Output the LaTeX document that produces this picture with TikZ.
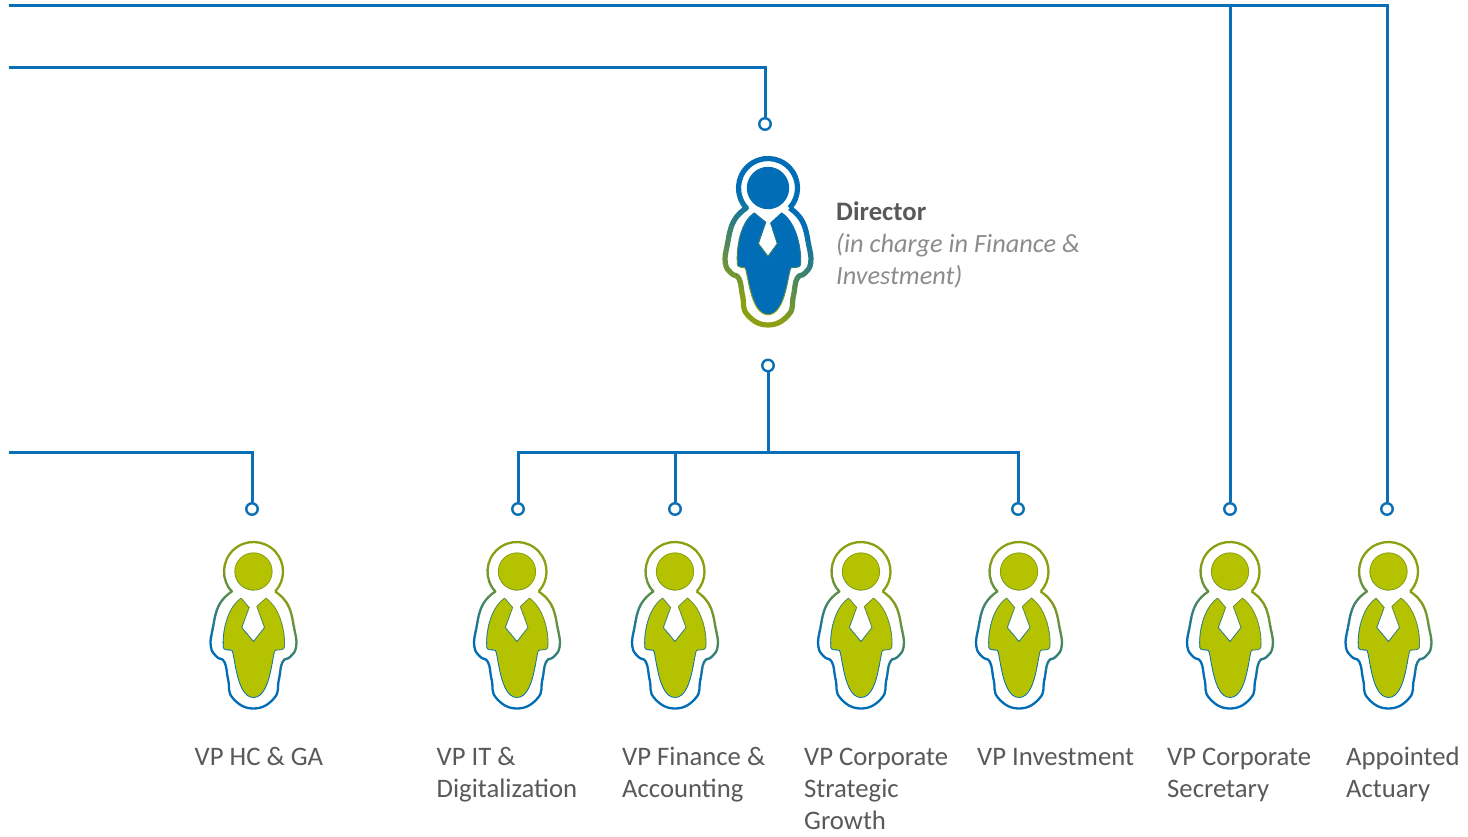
\documentclass[tikz,border=0pt]{standalone}
\usepackage{fontspec}
\setmainfont{Carlito}
\definecolor{lineblue}{HTML}{0B6FB5}
\definecolor{iconblue}{HTML}{006DB6}
\definecolor{iconolive}{HTML}{8C9F10}
\definecolor{fillolive}{HTML}{B5C200}
\definecolor{labelgray}{HTML}{595959}
\definecolor{subgray}{HTML}{8C8C8C}
\tikzset{
  conn/.style={draw=lineblue,line width=3pt,line join=miter},
  dot/.style={circle,draw=lineblue,fill=white,line width=2.4pt,inner sep=0pt,minimum size=11.5pt},
  vplabel/.style={anchor=north west,inner sep=0pt,align=left,text=labelgray,font=\fontsize{26.7}{32}\selectfont},
}
% shared outline of a person, local units = 1/3 px, y up, origin in the head centre
\newcommand\outerpath{
  plot[smooth,tension=0.8] coordinates {(65,-60) (103,-100) (122,-170) (128,-225) (110,-256) (87,-272) (76,-325) (62,-380) (0,-411) (-62,-380) (-76,-325) (-87,-272) (-110,-256) (-128,-225) (-122,-170) (-103,-100) (-65,-60)}
  arc[start angle=222.7,end angle=-42.7,radius=88.5]
}
\newcommand\vpbody{
  (-37,-80) -- (-13,-108) -- (-35,-168) -- (0,-210) -- (33,-168) -- (10,-105) -- (37,-80)
  .. controls (75,-105) and (95,-170) .. (93,-222)
  .. controls (93,-232) and (88,-235) .. (78,-235) -- (66,-236)
  .. controls (56,-238) and (54,-378) .. (0,-378)
  .. controls (-54,-378) and (-56,-238) .. (-66,-236) -- (-78,-235)
  .. controls (-88,-235) and (-91,-232) .. (-91,-222)
  .. controls (-93,-170) and (-75,-105) .. (-37,-80) -- cycle
}
\newcommand\dirbody{
  (-41,-75) -- (-7,-103) -- (-29,-167) -- (0,-205) -- (28,-167) -- (8,-105) -- (41,-75)
  .. controls (80,-100) and (100,-170) .. (98,-225)
  .. controls (98,-235) and (93,-238) .. (83,-238) -- (70,-239)
  .. controls (60,-241) and (56,-380) .. (0,-380)
  .. controls (-56,-380) and (-60,-241) .. (-70,-239) -- (-80,-238)
  .. controls (-88,-238) and (-92,-235) .. (-92,-225)
  .. controls (-95,-170) and (-80,-100) .. (-41,-75) -- cycle
}
% #1 x, #2 y, #3 first colour, #4 second colour, #5 fill, #6 outer width, #7 inner width, #8 head radius, #9 body macro
\newcommand\personicon[9]{
  \begin{scope}[shift={(#1,#2)},x=0.3333pt,y=0.3333pt]
    \fill[#5] #9;
    \fill[#5] (0,0) circle[radius=#8];
    \foreach \i in {0,...,23}{
      \pgfmathsetmacro\ptop{\i==0 ? 300 : \gstart-\gstep*\i}
      \pgfmathsetmacro\pbot{\i==23 ? -700 : \gstart-\gstep*(\i+1)-1}
      \pgfmathsetmacro\pmix{100-100*\i/23}
      \begin{scope}
        \clip[rotate=-30] (-400,\ptop) rectangle (400,\pbot);
        \draw[#3!\pmix!#4,line width=#6,line join=round] \outerpath;
        \draw[#3!\pmix!#4,line width=#7,line join=round] #9;
        \draw[#3!\pmix!#4,line width=#7] (0,0) circle[radius=#8];
      \end{scope}
    }
  \end{scope}
}
\begin{document}
\begin{tikzpicture}[x=1pt,y=-1pt]
\useasboundingbox (0,0) rectangle (1468,836);
\fill[white] (0,0) rectangle (1468,836);
% icons
\def\gstart{-40}\def\gstep{12.5}
\personicon{768}{188}{iconblue}{iconolive}{iconblue}{5.2pt}{1pt}{62}{\dirbody}
\def\gstart{-10}\def\gstep{10}
\foreach \px in {253.5,517,675,861,1019,1230,1388.5}{
  \personicon{\px}{571.5}{iconolive}{iconblue}{fillolive}{2.3pt}{0.8pt}{56}{\vpbody}
}
% dots
\node[dot] (dDir) at (765,124) {};
\node[dot] (dOut) at (768,365.5) {};
\node[dot] (dHC) at (252,509) {};
\node[dot] (dIT) at (518,509) {};
\node[dot] (dFin) at (675,509) {};
\node[dot] (dInv) at (1018,509) {};
\node[dot] (dSec) at (1230,509) {};
\node[dot] (dAct) at (1387,509) {};
% free ends and junctions
\coordinate (top) at (9,5);
\coordinate (mid) at (9,67);
\coordinate (low) at (9,452);
\coordinate (bus) at (768,452);
% connectors
\draw[conn] (top) -| (dAct);
\draw[conn] (top -| dSec) -- (dSec);
\draw[conn] (mid) -| (dDir);
\draw[conn] (low) -| (dHC);
\draw[conn] (dOut) -- (bus);
\draw[conn] (dIT) |- (bus) -| (dInv);
\draw[conn] (bus -| dFin) -- (dFin);
% labels
\node[vplabel] (director) at (836,197.8) {\strut\textbf{Director}\\\strut\textcolor{subgray}{\fontsize{26.3}{32}\selectfont\textit{(in charge in Finance \&}}\\\strut\textcolor{subgray}{\fontsize{26.3}{32}\selectfont\textit{Investment)}}};
\node[vplabel] (lHC) at (194.5,743) {\strut VP HC \& GA};
\node[vplabel] (lIT) at (436.5,743) {\strut VP IT \&\\\strut Digitalization};
\node[vplabel] (lFin) at (622,743) {\strut VP Finance \&\\\strut Accounting};
\node[vplabel] (lStr) at (804,743) {\strut VP Corporate\\\strut Strategic\\\strut Growth};
\node[vplabel] (lInv) at (977,743) {\strut VP Investment};
\node[vplabel] (lSec) at (1167,743) {\strut VP Corporate\\\strut Secretary};
\node[vplabel] (lAct) at (1346,743) {\strut Appointed\\\strut Actuary};
\end{tikzpicture}
\end{document}
